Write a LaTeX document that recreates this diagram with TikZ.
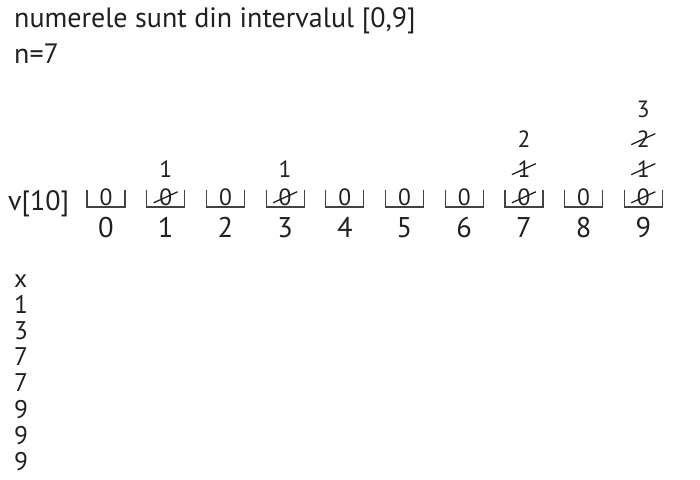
\documentclass[tikz,border=0pt]{standalone}
\usepackage{fontspec}
\setmainfont{PT Sans}
\usetikzlibrary{calc}
\definecolor{ink}{HTML}{231F20}
\begin{document}
\begin{tikzpicture}[x=1pt,y=-1pt,
  txt/.style={anchor=base west, inner sep=0pt, text=ink, font=\fontsize{28}{30}\selectfont},
  listtxt/.style={anchor=base west, inner sep=0pt, text=ink, font=\fontsize{25.5}{27}\selectfont},
  cellval/.style={anchor=base, inner sep=0pt, text=ink, font=\fontsize{23.5}{25}\selectfont},
  idx/.style={anchor=base, inner sep=0pt, text=ink, font=\fontsize{28.5}{30}\selectfont},
  bracket/.style={draw=ink!85, line width=1.2pt},
  strike/.style={draw=ink, line width=1.3pt}]
\useasboundingbox (0,0) rectangle (700,479);
\node[txt] (head) at (14,27) {numerele sunt din intervalul [0,9]};
\node[txt] (n) at (14,63) {n=7};
\node[txt] (v) at (8,210) {v[10]};
\foreach \i in {0,...,9}{
  \pgfmathsetmacro{\cx}{106+59.7*\i}
  \node[cellval] (c\i) at (\cx,205) {0};
  \node[idx] (i\i) at (\cx,237) {\i};
  \draw[bracket] (\cx-19,190) -- (\cx-19,207) -- (\cx+19,207) -- (\cx+19,190);
}
% values above cells
\node[cellval] (u1) at ($(c1.base)+(0,-28)$) {1};
\node[cellval] (u3) at ($(c3.base)+(0,-28)$) {1};
\node[cellval] (u7a) at ($(c7.base)+(0,-28)$) {1};
\node[cellval] (u7b) at ($(c7.base)+(0,-58)$) {2};
\node[cellval] (u9a) at ($(c9.base)+(0,-28)$) {1};
\node[cellval] (u9b) at ($(c9.base)+(0,-58)$) {2};
\node[cellval] (u9c) at ($(c9.base)+(0,-88)$) {3};
% strikes
\foreach \s in {c1,c3,c7,c9,u7a,u9a,u9b}{
  \draw[strike] ($(\s.center)+(-12,6)$) -- ($(\s.center)+(12,-5)$);
}
% list
\node[listtxt] (lx) at (14,287) {x};
\foreach \v [count=\k] in {1,3,7,7,9,9,9}{
  \node[listtxt] (l\k) at (14,287+26.2*\k) {\v};
}
\end{tikzpicture}
\end{document}
